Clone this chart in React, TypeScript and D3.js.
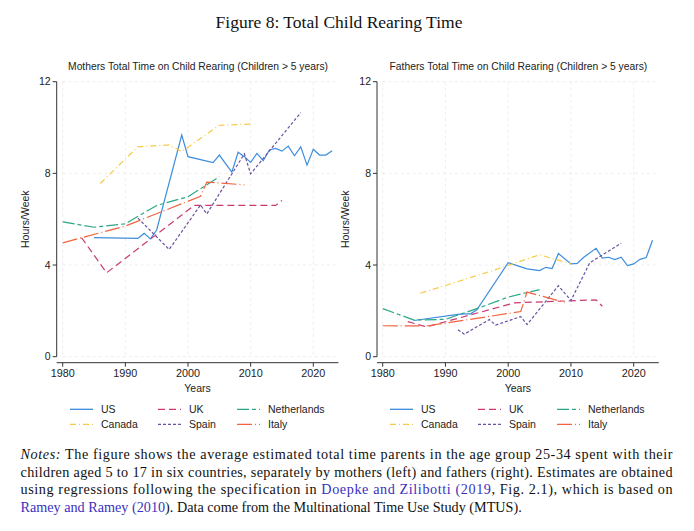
import React from "react";
import * as d3 from "d3";

type Pt = [number, number];

// Mothers (hours/week)
const mothersUS: Pt[] = [
  [1985, 5.2], [1992, 5.16], [1993, 5.38], [1994, 5.14], [1995, 5.53], [1999, 9.67],
  [2000, 8.73], [2004, 8.47], [2005, 8.8], [2007, 8.05], [2008, 8.92], [2009, 8.73],
  [2010, 8.48], [2011, 8.87], [2012, 8.55], [2013, 9.02], [2014, 9.09], [2015, 8.97],
  [2016, 9.19], [2017, 8.77], [2018, 9.16], [2019, 8.36], [2020, 9.05], [2021, 8.8],
  [2022, 8.8], [2023, 8.99],
];
const mothersCanada: Pt[] = [[1986, 7.56], [1992, 9.16], [1997, 9.24], [1999, 8.95], [2005, 10.1], [2010, 10.15]];
const mothersUK: Pt[] = [[1983, 5.2], [1987, 3.66], [2001, 6.6], [2014, 6.6], [2015, 6.82]];
const mothersSpain: Pt[] = [[1992, 6.05], [1997, 4.68], [2002, 6.62], [2003, 6.23], [2009, 8.85], [2010, 7.98], [2018, 10.65]];
const mothersNetherlands: Pt[] = [[1980, 5.88], [1985, 5.65], [1990, 5.8], [1995, 6.6], [2000, 6.98], [2005, 7.85]];
const mothersItaly: Pt[] = [[1980, 4.97], [1990, 5.7], [2002, 7.0], [2003, 7.62], [2009, 7.5]];

// Fathers (hours/week)
const fathersUS: Pt[] = [
  [1985, 1.58], [1992, 1.85], [1993, 1.87], [1994, 1.87], [1995, 2.05], [2000, 4.1],
  [2003, 3.83], [2005, 3.76], [2006, 3.9], [2007, 3.85], [2008, 4.5], [2010, 4.05],
  [2011, 4.07], [2012, 4.33], [2014, 4.73], [2015, 4.3], [2016, 4.34], [2017, 4.24],
  [2018, 4.34], [2019, 3.98], [2020, 4.05], [2021, 4.25], [2022, 4.33], [2023, 5.08],
];
const fathersCanada: Pt[] = [[1986, 2.77], [1992, 3.28], [1998, 3.8], [2005, 4.45], [2010, 4.05]];
const fathersUK: Pt[] = [[1984, 1.53], [1987, 1.3], [2001, 2.35], [2014, 2.48], [2015, 2.2]];
const fathersSpain: Pt[] = [
  [1992, 1.18], [1993, 0.98], [1997, 1.62], [1998, 1.38], [2002, 1.75], [2003, 1.4],
  [2008, 3.1], [2010, 2.45], [2013, 4.1], [2018, 4.95],
];
const fathersNetherlands: Pt[] = [[1980, 2.1], [1985, 1.6], [1990, 1.63], [1995, 2.1], [2000, 2.6], [2005, 2.93]];
const fathersItaly: Pt[] = [[1980, 1.35], [1987, 1.34], [2002, 1.97], [2003, 2.82], [2009, 2.37]];

const countries = ["US", "Canada", "UK", "Spain", "Netherlands", "Italy"];
const legendOrder = ["US", "UK", "Netherlands", "Canada", "Spain", "Italy"];
const xTicks = [1980, 1990, 2000, 2010, 2020];
const yTicks = [0, 4, 8, 12];

const styles: Record<string, { color: string; dash: string }> = {
  US: { color: "#3d8ddd", dash: "" },
  Canada: { color: "#f7c948", dash: "6,3,1,3" },
  UK: { color: "#c93a73", dash: "7,4" },
  Spain: { color: "#6b52a3", dash: "3,2" },
  Netherlands: { color: "#2aa886", dash: "12,3,4,3" },
  Italy: { color: "#f2633f", dash: "15,3,1,3" },
};

const sans = "'Liberation Sans', Arial, sans-serif";
const serif = "'Liberation Serif', 'Times New Roman', serif";

type PanelProps = {
  title: string;
  x0: number; // pixel of 1980
  x1: number; // pixel of 2020
  axisX: number;
  series: Record<string, Pt[]>;
  legendX: number;
};

const Panel: React.FC<PanelProps> = ({ title, x0, x1, axisX, series, legendX }) => {
  const x = d3.scaleLinear().domain([1980, 2020]).range([x0, x1]);
  const y = d3.scaleLinear().domain([0, 12]).range([356.7, 81.7]);
  const line = d3.line<Pt>().x((d) => x(d[0])).y((d) => y(d[1]));
  const axisY = 362.7;
  const xEnd = x(2024);
  const legendCols = [0, 88, 167];
  const legendRows = [409.3, 424.3];

  return (
    <g>
      <text x={(axisX + xEnd) / 2 + 0.5} y={69.5} textAnchor="middle" fontFamily={sans} fontSize={10.3} fill="#222">
        {title}
      </text>
      {/* grid */}
      {yTicks.map((t) => (
        <line key={"gy" + t} x1={x0} x2={xEnd - 2} y1={y(t)} y2={y(t)} stroke="#e6e6e6" strokeWidth={0.7} strokeDasharray="3,3" />
      ))}
      {xTicks.map((t) => (
        <line key={"gx" + t} x1={x(t)} x2={x(t)} y1={y(12)} y2={y(0)} stroke="#e6e6e6" strokeWidth={0.7} strokeDasharray="3,3" />
      ))}
      {/* y axis */}
      <line x1={axisX} x2={axisX} y1={y(12)} y2={y(0)} stroke="#333" strokeWidth={1} />
      {yTicks.map((t) => (
        <g key={"yt" + t}>
          <line x1={axisX - 4} x2={axisX} y1={y(t)} y2={y(t)} stroke="#333" strokeWidth={1} />
          <text x={axisX - 6} y={y(t)} dy="0.35em" textAnchor="end" fontFamily={sans} fontSize={10.5} fill="#222">
            {t}
          </text>
        </g>
      ))}
      <text
        transform={`translate(${axisX - 28},${y(6)}) rotate(-90)`}
        textAnchor="middle"
        fontFamily={sans}
        fontSize={10.5}
        fill="#222"
      >
        Hours/Week
      </text>
      {/* x axis */}
      <line x1={axisX} x2={xEnd} y1={axisY} y2={axisY} stroke="#333" strokeWidth={1} />
      {xTicks.map((t) => (
        <g key={"xt" + t}>
          <line x1={x(t)} x2={x(t)} y1={axisY} y2={axisY + 4} stroke="#333" strokeWidth={1} />
          <text x={x(t)} y={axisY + 14} textAnchor="middle" fontFamily={sans} fontSize={10.8} fill="#222">
            {t}
          </text>
        </g>
      ))}
      <text x={(axisX + xEnd) / 2} y={axisY + 29} textAnchor="middle" fontFamily={sans} fontSize={10.5} fill="#222">
        Years
      </text>
      {/* series */}
      {countries.map((c) => (
        <path
          key={c}
          d={line(series[c]) || ""}
          fill="none"
          stroke={styles[c].color}
          strokeWidth={1.2}
          strokeDasharray={styles[c].dash}
        />
      ))}
      {/* legend */}
      {legendOrder.map((c, i) => {
        const lx = legendX + legendCols[i % 3];
        const ly = legendRows[Math.floor(i / 3)];
        return (
          <g key={"lg" + c}>
            <line x1={lx} x2={lx + 23} y1={ly} y2={ly} stroke={styles[c].color} strokeWidth={1.3} strokeDasharray={styles[c].dash} />
            <text x={lx + 31} y={ly} dy="0.35em" fontFamily={sans} fontSize={10.5} fill="#222">
              {c}
            </text>
          </g>
        );
      })}
    </g>
  );
};

const link = "#3a30c0";

export default function App() {
  const left: Record<string, Pt[]> = {
    US: mothersUS, Canada: mothersCanada, UK: mothersUK, Spain: mothersSpain,
    Netherlands: mothersNetherlands, Italy: mothersItaly,
  };
  const right: Record<string, Pt[]> = {
    US: fathersUS, Canada: fathersCanada, UK: fathersUK, Spain: fathersSpain,
    Netherlands: fathersNetherlands, Italy: fathersItaly,
  };
  const noteX = 20.5;
  const noteW = 652;
  const fs = 14.2;
  return (
    <div style={{ position: "absolute", left: 0, top: 0 }}>
      <svg width={694} height={531} style={{ display: "block", background: "#fff" }}>
        <text x={339} y={28} textAnchor="middle" fontFamily={serif} fontSize={17.5} fill="#111">
          Figure 8: Total Child Rearing Time
        </text>
        <Panel title="Mothers Total Time on Child Rearing (Children > 5 years)" x0={62.7} x1={313.3} axisX={56.7} series={left} legendX={70} />
        <Panel title="Fathers Total Time on Child Rearing (Children > 5 years)" x0={382.7} x1={633.7} axisX={377} series={right} legendX={390} />
        <g fontFamily={serif} fontSize={fs} fill="#111">
          <text x={noteX} y={458.8} textLength={noteW} lengthAdjust="spacing">
            <tspan fontStyle="italic">Notes:</tspan> The figure shows the average estimated total time parents in the age group 25-34 spent with their
          </text>
          <text x={noteX} y={476.5} textLength={noteW} lengthAdjust="spacing">
            children aged 5 to 17 in six countries, separately by mothers (left) and fathers (right). Estimates are obtained
          </text>
          <text x={noteX} y={494.2} textLength={noteW} lengthAdjust="spacing">
            using regressions following the specification in <tspan fill={link}>Doepke and Zilibotti (2019</tspan>, Fig.  2.1), which is based on
          </text>
          <text x={noteX} y={511.9}>
            <tspan fill={link}>Ramey and Ramey (2010</tspan>). Data come from the Multinational Time Use Study (MTUS).
          </text>
        </g>
      </svg>
    </div>
  );
}
